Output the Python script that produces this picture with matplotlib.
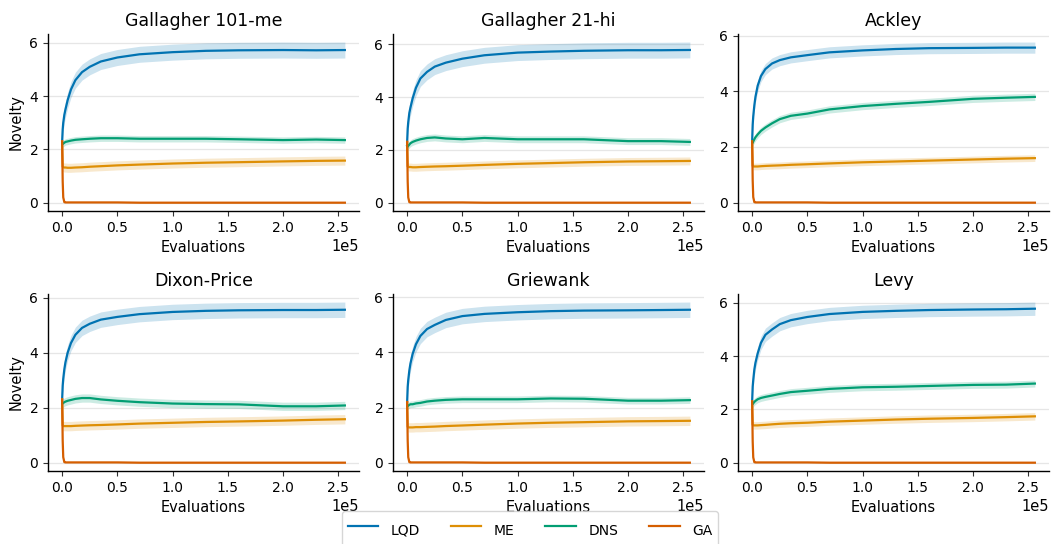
import matplotlib
matplotlib.use("Agg")
import matplotlib.pyplot as plt
import numpy as np

# ---------------- data ----------------
titles = ["Gallagher 101-me", "Gallagher 21-hi", "Ackley", "Dixon-Price", "Griewank", "Levy"]
methods = ["LQD", "ME", "DNS", "GA"]

evals = [0, 500, 1000, 2000, 3000, 5000, 8000, 12000, 18000, 25000, 35000,
         50000, 70000, 100000, 130000, 160000, 200000, 230000, 256000]

lqd_gal101 = [2.3, 2.75, 3.0, 3.3, 3.5, 3.85, 4.25, 4.6, 4.9, 5.1, 5.3, 5.45, 5.57, 5.65, 5.7, 5.72, 5.73, 5.72, 5.73]
lqd_gal21 = [2.3, 2.8, 3.05, 3.4, 3.6, 3.95, 4.35, 4.7, 4.95, 5.15, 5.3, 5.45, 5.58, 5.68, 5.72, 5.75, 5.77, 5.77, 5.78]
lqd_ackley = [2.2, 2.8, 3.1, 3.5, 3.8, 4.2, 4.55, 4.8, 5.0, 5.12, 5.22, 5.3, 5.4, 5.47, 5.52, 5.55, 5.56, 5.57, 5.57]
lqd_dixon = [2.3, 2.8, 3.05, 3.4, 3.65, 4.0, 4.35, 4.65, 4.9, 5.05, 5.2, 5.3, 5.4, 5.48, 5.52, 5.54, 5.55, 5.55, 5.56]
lqd_griewank = [2.2, 2.75, 3.0, 3.35, 3.6, 3.95, 4.3, 4.6, 4.85, 5.0, 5.18, 5.32, 5.4, 5.46, 5.5, 5.52, 5.53, 5.54, 5.55]
lqd_levy = [2.3, 2.85, 3.1, 3.5, 3.75, 4.1, 4.5, 4.8, 5.0, 5.2, 5.35, 5.47, 5.58, 5.66, 5.7, 5.73, 5.75, 5.76, 5.78]

me_gal101 = [2.3, 1.35, 1.33, 1.32, 1.32, 1.31, 1.31, 1.32, 1.33, 1.35, 1.37, 1.4, 1.43, 1.47, 1.5, 1.52, 1.55, 1.57, 1.58]
me_gal21 = [2.3, 1.37, 1.35, 1.35, 1.35, 1.34, 1.34, 1.35, 1.36, 1.37, 1.38, 1.4, 1.43, 1.47, 1.5, 1.53, 1.56, 1.57, 1.58]
me_ackley = [2.2, 1.32, 1.3, 1.3, 1.3, 1.3, 1.31, 1.32, 1.33, 1.34, 1.36, 1.38, 1.41, 1.45, 1.48, 1.51, 1.55, 1.58, 1.6]
me_dixon = [2.3, 1.35, 1.33, 1.33, 1.33, 1.33, 1.33, 1.34, 1.35, 1.36, 1.37, 1.39, 1.42, 1.45, 1.48, 1.5, 1.53, 1.56, 1.58]
me_griewank = [2.2, 1.3, 1.28, 1.28, 1.28, 1.28, 1.29, 1.29, 1.3, 1.31, 1.33, 1.35, 1.38, 1.42, 1.45, 1.47, 1.5, 1.51, 1.52]
me_levy = [2.3, 1.42, 1.4, 1.4, 1.4, 1.4, 1.41, 1.42, 1.44, 1.46, 1.48, 1.5, 1.54, 1.58, 1.62, 1.65, 1.68, 1.71, 1.74]

dns_gal101 = [2.2, 2.2, 2.22, 2.25, 2.28, 2.3, 2.33, 2.36, 2.38, 2.4, 2.42, 2.42, 2.4, 2.4, 2.4, 2.38, 2.35, 2.37, 2.35]
dns_gal21 = [2.15, 2.12, 2.15, 2.2, 2.25, 2.3, 2.35, 2.4, 2.45, 2.47, 2.43, 2.4, 2.45, 2.4, 2.4, 2.4, 2.33, 2.33, 2.3]
dns_ackley = [2.15, 2.15, 2.2, 2.28, 2.35, 2.45, 2.58, 2.7, 2.85, 3.0, 3.12, 3.2, 3.35, 3.47, 3.55, 3.62, 3.73, 3.77, 3.8]
dns_dixon = [2.15, 2.15, 2.17, 2.2, 2.22, 2.25, 2.28, 2.32, 2.35, 2.35, 2.3, 2.25, 2.2, 2.15, 2.13, 2.12, 2.05, 2.05, 2.08]
dns_griewank = [2.05, 2.05, 2.07, 2.1, 2.12, 2.12, 2.15, 2.17, 2.22, 2.25, 2.28, 2.3, 2.3, 2.3, 2.33, 2.32, 2.25, 2.25, 2.27]
dns_levy = [2.2, 2.2, 2.23, 2.28, 2.32, 2.38, 2.43, 2.47, 2.52, 2.58, 2.65, 2.7, 2.77, 2.83, 2.85, 2.88, 2.92, 2.93, 2.97]

ga_gal101 = [2.3, 0.8, 0.2, 0.02, 0.01, 0.01, 0.01, 0.01, 0.01, 0.01, 0.01, 0.01, 0.0, 0.0, 0.0, 0.0, 0.0, 0.0, 0.0]
ga_gal21 = [2.3, 0.8, 0.2, 0.02, 0.01, 0.01, 0.01, 0.01, 0.01, 0.01, 0.01, 0.01, 0.0, 0.0, 0.0, 0.0, 0.0, 0.0, 0.0]
ga_ackley = [2.2, 0.8, 0.2, 0.02, 0.01, 0.01, 0.01, 0.01, 0.01, 0.01, 0.01, 0.01, 0.0, 0.0, 0.0, 0.0, 0.0, 0.0, 0.0]
ga_dixon = [2.3, 0.8, 0.2, 0.02, 0.01, 0.01, 0.01, 0.01, 0.01, 0.01, 0.01, 0.01, 0.0, 0.0, 0.0, 0.0, 0.0, 0.0, 0.0]
ga_griewank = [2.2, 0.8, 0.2, 0.02, 0.01, 0.01, 0.01, 0.01, 0.01, 0.01, 0.01, 0.01, 0.0, 0.0, 0.0, 0.0, 0.0, 0.0, 0.0]
ga_levy = [2.3, 0.8, 0.2, 0.02, 0.01, 0.01, 0.01, 0.01, 0.01, 0.01, 0.01, 0.01, 0.0, 0.0, 0.0, 0.0, 0.0, 0.0, 0.0]

# spread (half-width of shaded band) per panel, per method
lqd_spread = [0.3, 0.3, 0.2, 0.28, 0.28, 0.25]
me_spread = [0.17, 0.15, 0.12, 0.17, 0.17, 0.14]
dns_spread = [0.12, 0.13, 0.13, 0.15, 0.12, 0.13]
ga_spread = [0.01, 0.01, 0.01, 0.01, 0.01, 0.01]

lqd_all = [lqd_gal101, lqd_gal21, lqd_ackley, lqd_dixon, lqd_griewank, lqd_levy]
me_all = [me_gal101, me_gal21, me_ackley, me_dixon, me_griewank, me_levy]
dns_all = [dns_gal101, dns_gal21, dns_ackley, dns_dixon, dns_griewank, dns_levy]
ga_all = [ga_gal101, ga_gal21, ga_ackley, ga_dixon, ga_griewank, ga_levy]

colors = {"LQD": "#0173B2", "ME": "#DE8F05", "DNS": "#029E73", "GA": "#D55E00"}

# ---------------- plot ----------------
plt.rcParams["font.family"] = ["DejaVu Sans"]
W, H = 1051, 544
fig = plt.figure(figsize=(W / 100, H / 100), dpi=100)

lefts = [48, 393, 738]
tops = [34, 294]
aw, ah = 311, 177

x = np.array(evals)
series = {"LQD": (lqd_all, lqd_spread), "ME": (me_all, me_spread),
          "DNS": (dns_all, dns_spread), "GA": (ga_all, ga_spread)}

handles = []
for i, title in enumerate(titles):
    r, c = divmod(i, 3)
    ax = fig.add_axes([lefts[c] / W, 1 - (tops[r] + ah) / H, aw / W, ah / H])
    for m in methods:
        vals, spr = series[m]
        y = np.array(vals[i])
        s = spr[i]
        ax.fill_between(x, y - s, y + s, color=colors[m], alpha=0.2, linewidth=0)
        ln, = ax.plot(x, y, color=colors[m], lw=1.6, label=m)
        if i == 0:
            handles.append(ln)
    ax.set_title(title, fontsize=12.5)
    ax.set_xlabel("Evaluations", fontsize=10.5)
    if c == 0:
        ax.set_ylabel("Novelty", fontsize=10.5)
    ax.set_yticks([0, 2, 4, 6])
    ax.set_xticks([0, 50000, 100000, 150000, 200000, 250000])
    ax.ticklabel_format(axis="x", style="sci", scilimits=(0, 0))
    ax.xaxis.get_offset_text().set_fontsize(10.5)
    ax.tick_params(labelsize=10, length=3.5, width=0.8, pad=3.5, color="#333333")
    ax.grid(axis="y", color="#e6e6e6", lw=0.9)
    ax.set_axisbelow(True)
    for sp in ["top", "right"]:
        ax.spines[sp].set_visible(False)
    for sp in ["left", "bottom"]:
        ax.spines[sp].set_linewidth(1.0)

fig.legend(handles, methods, loc="upper center", bbox_to_anchor=(0.5 + 4.5 / W, 1 - 511 / H),
           ncol=4, fontsize=10, frameon=True, handlelength=2.2, handletextpad=0.9,
           columnspacing=2.22, borderpad=0.4, handleheight=2.7, borderaxespad=0)

fig.savefig("out.png", dpi=100)
